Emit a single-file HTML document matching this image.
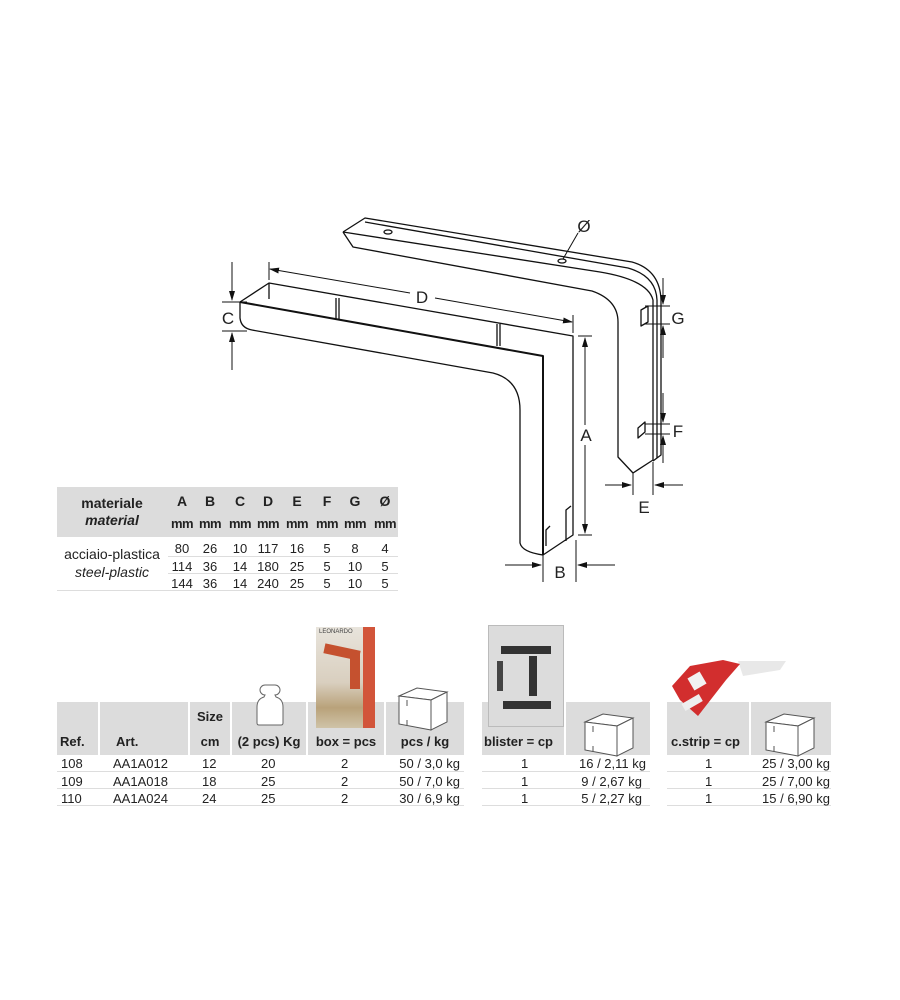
<!DOCTYPE html>
<html><head><meta charset="utf-8"><style>
html,body{margin:0;padding:0;background:#fff;}
body{width:900px;height:1000px;position:relative;overflow:hidden;font-family:"Liberation Sans",Arial,sans-serif;color:#222;}
.t{position:absolute;white-space:nowrap;font-size:13px;}
.b{font-weight:bold;}
.g{position:absolute;background:#dcdcdc;}
.c{text-align:center;}
.ln{position:absolute;height:1px;background:#ddd;}
.cl{position:absolute;width:30px;text-align:center;}
</style></head><body>

<svg width="900" height="1000" style="position:absolute;left:0;top:0" xmlns="http://www.w3.org/2000/svg">
<defs><marker id="ar" markerWidth="10" markerHeight="8" refX="9" refY="4" orient="auto" markerUnits="userSpaceOnUse"><path d="M0,1 L10,4 L0,7 Z" fill="#111"/></marker></defs>
<g fill="none" stroke="#111" stroke-width="1.3" stroke-linejoin="round">
<path d="M343,232 L365,218 L632,262 Q660,270 661,300 L661,455 L653,461"/>
<path d="M343,232 L600,272 Q648,280 653,300 L653,460 L633,473"/>
<path d="M343,232 L353,247 L592,291 Q618,300 618,322 L618,457 L633,473"/>
<path d="M365,222 L628,268 Q656,276 657,300 L657,458"/>
<ellipse cx="388" cy="232" rx="4" ry="2"/>
<ellipse cx="562" cy="261" rx="4" ry="2"/>
<path d="M641,310 L648,306 L648,322 L641,326 Z"/>
<path d="M638,428 L645,422 L645,432 L638,438 Z"/>
<path d="M240,302 L269,283 L573,336 L573,535 L543,555"/>
<path d="M240,302 L543,356 L543,555" stroke-width="2"/>
<path d="M240,302 L240,318 Q241,328 252,330 L493,373 Q520,380 520,410 L520,543 Q522,552 543,555"/>
<path d="M269,283 L269,299"/>
<path d="M336,298 L336,320 M339,298 L339,320"/>
<path d="M497,324 L497,346 M500,324 L500,346"/>
<path d="M546,546 L546,530 L550,526 M566,541 L566,510 L571,506"/>
</g>
<g stroke="#111" stroke-width="1" fill="none">
<line x1="222" y1="302" x2="247" y2="302"/><line x1="222" y1="331" x2="247" y2="331"/>
<line x1="232" y1="262" x2="232" y2="300" marker-end="url(#ar)"/>
<line x1="232" y1="370" x2="232" y2="333" marker-end="url(#ar)"/>
<line x1="269" y1="262" x2="269" y2="280"/><line x1="573" y1="315" x2="573" y2="333"/>
<line x1="410" y1="293" x2="270" y2="269" marker-end="url(#ar)"/>
<line x1="435" y1="298" x2="572" y2="322" marker-end="url(#ar)"/>
<line x1="578" y1="336" x2="592" y2="336"/><line x1="578" y1="535" x2="592" y2="535"/>
<line x1="585" y1="425" x2="585" y2="338" marker-end="url(#ar)"/>
<line x1="585" y1="445" x2="585" y2="533" marker-end="url(#ar)"/>
<line x1="543" y1="555" x2="543" y2="582"/><line x1="576" y1="540" x2="576" y2="582"/>
<line x1="505" y1="565" x2="541" y2="565" marker-end="url(#ar)"/>
<line x1="615" y1="565" x2="578" y2="565" marker-end="url(#ar)"/>
<line x1="633" y1="473" x2="633" y2="495"/><line x1="653" y1="462" x2="653" y2="495"/>
<line x1="605" y1="485" x2="631" y2="485" marker-end="url(#ar)"/>
<line x1="683" y1="485" x2="655" y2="485" marker-end="url(#ar)"/>
<line x1="645" y1="306" x2="670" y2="306"/><line x1="645" y1="324" x2="670" y2="324"/>
<line x1="663" y1="278" x2="663" y2="304" marker-end="url(#ar)"/>
<line x1="663" y1="358" x2="663" y2="326" marker-end="url(#ar)"/>
<line x1="645" y1="424" x2="670" y2="424"/><line x1="645" y1="434" x2="670" y2="434"/>
<line x1="663" y1="393" x2="663" y2="422" marker-end="url(#ar)"/>
<line x1="663" y1="463" x2="663" y2="436" marker-end="url(#ar)"/>
<line x1="578" y1="233" x2="563" y2="259"/>
</g>
<g font-family="Liberation Sans, Arial, sans-serif" font-size="17" fill="#222" text-anchor="middle">
<text x="228" y="324">C</text><text x="422" y="303">D</text><text x="586" y="441">A</text>
<text x="560" y="578">B</text><text x="644" y="513">E</text><text x="678" y="324">G</text>
<text x="678" y="437">F</text><text x="584" y="232">Ø</text>
</g>
</svg>

<!-- top table -->
<div class="g" style="left:57px;top:487px;width:341px;height:50px"></div>
<div class="t b c" style="left:57px;top:495px;width:110px;font-size:14px">materiale</div>
<div class="t b c" style="left:57px;top:512px;width:110px;font-size:14px;font-style:italic">material</div>
<div class="t b" style="left:0;top:493px;font-size:14px">
<span class="cl" style="left:167px">A</span><span class="cl" style="left:195px">B</span><span class="cl" style="left:225px">C</span><span class="cl" style="left:253px">D</span><span class="cl" style="left:282px">E</span><span class="cl" style="left:312px">F</span><span class="cl" style="left:340px">G</span><span class="cl" style="left:370px">Ø</span></div>
<div class="t b" style="left:0;top:516px;font-size:13px;letter-spacing:-0.5px">
<span class="cl" style="left:167px">mm</span><span class="cl" style="left:195px">mm</span><span class="cl" style="left:225px">mm</span><span class="cl" style="left:253px">mm</span><span class="cl" style="left:282px">mm</span><span class="cl" style="left:312px">mm</span><span class="cl" style="left:340px">mm</span><span class="cl" style="left:370px">mm</span></div>
<div class="t c" style="left:57px;top:546px;width:110px;font-size:14px">acciaio-plastica</div>
<div class="t c" style="left:57px;top:564px;width:110px;font-size:14px;font-style:italic">steel-plastic</div>
<div class="ln" style="left:168px;top:556px;width:230px"></div>
<div class="ln" style="left:168px;top:573px;width:230px"></div>
<div class="ln" style="left:57px;top:590px;width:341px"></div>
<div style="position:absolute;left:0;top:540px;font-size:13px;line-height:17.5px;width:400px">
<div style="position:relative;height:17.5px"><span class="cl" style="left:167px">80</span><span class="cl" style="left:195px">26</span><span class="cl" style="left:225px">10</span><span class="cl" style="left:253px">117</span><span class="cl" style="left:282px">16</span><span class="cl" style="left:312px">5</span><span class="cl" style="left:340px">8</span><span class="cl" style="left:370px">4</span></div>
<div style="position:relative;height:17.5px"><span class="cl" style="left:167px">114</span><span class="cl" style="left:195px">36</span><span class="cl" style="left:225px">14</span><span class="cl" style="left:253px">180</span><span class="cl" style="left:282px">25</span><span class="cl" style="left:312px">5</span><span class="cl" style="left:340px">10</span><span class="cl" style="left:370px">5</span></div>
<div style="position:relative;height:17.5px"><span class="cl" style="left:167px">144</span><span class="cl" style="left:195px">36</span><span class="cl" style="left:225px">14</span><span class="cl" style="left:253px">240</span><span class="cl" style="left:282px">25</span><span class="cl" style="left:312px">5</span><span class="cl" style="left:340px">10</span><span class="cl" style="left:370px">5</span></div>
</div>

<!-- bottom table gray bands -->
<div class="g" style="left:57px;top:702px;width:41px;height:53px"></div>
<div class="g" style="left:100px;top:702px;width:88px;height:53px"></div>
<div class="g" style="left:190px;top:702px;width:40px;height:53px"></div>
<div class="g" style="left:232px;top:702px;width:74px;height:53px"></div>
<div class="g" style="left:308px;top:702px;width:76px;height:53px"></div>
<div class="g" style="left:386px;top:702px;width:78px;height:53px"></div>
<div class="g" style="left:482px;top:702px;width:82px;height:53px"></div>
<div class="g" style="left:566px;top:702px;width:84px;height:53px"></div>
<div class="g" style="left:667px;top:702px;width:82px;height:53px"></div>
<div class="g" style="left:751px;top:702px;width:80px;height:53px"></div>

<!-- images -->
<div style="position:absolute;left:316px;top:627px;width:59px;height:101px;background:linear-gradient(180deg,#e8e4dc 0%,#d9cfbf 55%,#b9a27a 80%,#cfc3a8 100%)">
<div style="position:absolute;right:0;top:0;width:12px;height:101px;background:#d2553a"></div>
<div style="position:absolute;left:8px;top:20px;width:36px;height:10px;background:#c5512f;transform:rotate(12deg)"></div>
<div style="position:absolute;left:34px;top:26px;width:10px;height:36px;background:#c5512f"></div>
<div style="position:absolute;left:3px;top:2px;font-size:6px;color:#444">LEONARDO</div>
</div>
<div style="position:absolute;left:488px;top:625px;width:74px;height:100px;background:#dcdcdc;border:1px solid #bbb">
<div style="position:absolute;left:12px;top:20px;width:50px;height:8px;background:#333"></div>
<div style="position:absolute;left:40px;top:30px;width:8px;height:40px;background:#333"></div>
<div style="position:absolute;left:14px;top:75px;width:48px;height:8px;background:#333"></div>
<div style="position:absolute;left:8px;top:35px;width:6px;height:30px;background:#444"></div>
</div>
<svg style="position:absolute;left:668px;top:658px" width="120" height="65"><polygon points="70,3 118,3 112,12 75,18" fill="#e8e8e8"/><polygon points="22,8 55,2 72,6 58,22 30,58 12,42 4,28" fill="#d22e2e"/><rect x="22" y="16" width="14" height="14" fill="#f2f2f2" transform="rotate(-30 29 23)"/><rect x="14" y="40" width="20" height="8" fill="#eee" transform="rotate(-30 25 44)"/></svg>

<!-- icons -->
<svg style="position:absolute;left:255px;top:683px" width="30" height="44"><path d="M10,2 h10 a4,4 0 0 1 0,10 l1,2 q7,2 7,10 v16 q0,2 -2,2 h-22 q-2,0 -2,-2 v-16 q0,-8 7,-10 l1,-2 a4,4 0 0 1 0,-10 z" fill="#fff" stroke="#666" stroke-width="1"/></svg>
<svg style="position:absolute;left:397px;top:686px" width="52" height="46"><g fill="#fff" stroke="#555" stroke-width="1"><path d="M2,10 L20,2 L50,6 L34,14 Z"/><path d="M2,10 L34,14 L34,44 L2,38 Z"/><path d="M34,14 L50,6 L50,36 L34,44 Z"/><path d="M10,14 v6 M10,34 v6"/></g></svg>
<svg style="position:absolute;left:583px;top:712px" width="52" height="46"><g fill="#fff" stroke="#555" stroke-width="1"><path d="M2,10 L20,2 L50,6 L34,14 Z"/><path d="M2,10 L34,14 L34,44 L2,38 Z"/><path d="M34,14 L50,6 L50,36 L34,44 Z"/><path d="M10,14 v6 M10,34 v6"/></g></svg>
<svg style="position:absolute;left:764px;top:712px" width="52" height="46"><g fill="#fff" stroke="#555" stroke-width="1"><path d="M2,10 L20,2 L50,6 L34,14 Z"/><path d="M2,10 L34,14 L34,44 L2,38 Z"/><path d="M34,14 L50,6 L50,36 L34,44 Z"/><path d="M10,14 v6 M10,34 v6"/></g></svg>

<!-- header text -->
<div class="t b" style="left:60px;top:734px">Ref.</div>
<div class="t b" style="left:116px;top:734px">Art.</div>
<div class="t b c" style="left:190px;top:709px;width:40px">Size</div>
<div class="t b c" style="left:190px;top:734px;width:40px">cm</div>
<div class="t b c" style="left:228px;top:734px;width:82px">(2 pcs) Kg</div>
<div class="t b c" style="left:304px;top:734px;width:84px">box = pcs</div>
<div class="t b c" style="left:386px;top:734px;width:78px">pcs / kg</div>
<div class="t b" style="left:484px;top:734px">blister = cp</div>
<div class="t b" style="left:671px;top:734px">c.strip = cp</div>

<!-- rows -->
<div class="ln" style="left:57px;top:771px;width:407px"></div>
<div class="ln" style="left:57px;top:788px;width:407px"></div>
<div class="ln" style="left:57px;top:805px;width:407px"></div>
<div class="ln" style="left:482px;top:771px;width:168px"></div>
<div class="ln" style="left:482px;top:788px;width:168px"></div>
<div class="ln" style="left:482px;top:805px;width:168px"></div>
<div class="ln" style="left:667px;top:771px;width:164px"></div>
<div class="ln" style="left:667px;top:788px;width:164px"></div>
<div class="ln" style="left:667px;top:805px;width:164px"></div>

<div style="position:absolute;left:0;top:755px;width:900px;font-size:13px;line-height:17.5px">
<div style="position:relative;height:17.5px">
<span style="position:absolute;left:61px">108</span><span style="position:absolute;left:113px">AA1A012</span><span style="position:absolute;left:202px">12</span><span style="position:absolute;left:261px">20</span><span style="position:absolute;left:341px">2</span><span style="position:absolute;left:388px;width:72px;text-align:right">50 / 3,0 kg</span><span style="position:absolute;left:521px">1</span><span style="position:absolute;left:566px;width:80px;text-align:right">16 / 2,11 kg</span><span style="position:absolute;left:705px">1</span><span style="position:absolute;left:750px;width:80px;text-align:right">25 / 3,00 kg</span></div>
<div style="position:relative;height:17.5px">
<span style="position:absolute;left:61px">109</span><span style="position:absolute;left:113px">AA1A018</span><span style="position:absolute;left:202px">18</span><span style="position:absolute;left:261px">25</span><span style="position:absolute;left:341px">2</span><span style="position:absolute;left:388px;width:72px;text-align:right">50 / 7,0 kg</span><span style="position:absolute;left:521px">1</span><span style="position:absolute;left:566px;width:76px;text-align:right">9 / 2,67 kg</span><span style="position:absolute;left:705px">1</span><span style="position:absolute;left:750px;width:80px;text-align:right">25 / 7,00 kg</span></div>
<div style="position:relative;height:17.5px">
<span style="position:absolute;left:61px">110</span><span style="position:absolute;left:113px">AA1A024</span><span style="position:absolute;left:202px">24</span><span style="position:absolute;left:261px">25</span><span style="position:absolute;left:341px">2</span><span style="position:absolute;left:388px;width:72px;text-align:right">30 / 6,9 kg</span><span style="position:absolute;left:521px">1</span><span style="position:absolute;left:566px;width:76px;text-align:right">5 / 2,27 kg</span><span style="position:absolute;left:705px">1</span><span style="position:absolute;left:750px;width:80px;text-align:right">15 / 6,90 kg</span></div>
</div>

</body></html>
